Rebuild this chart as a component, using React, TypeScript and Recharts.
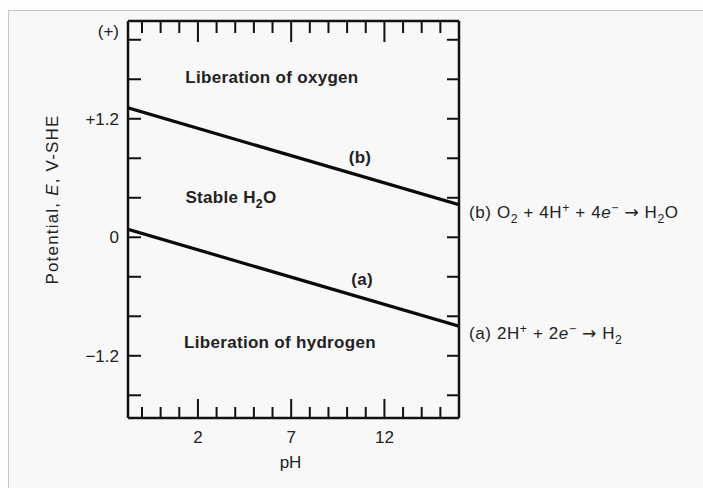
import React from 'react';
import { LineChart, Line, XAxis, YAxis, ReferenceDot } from 'recharts';

// pH range shown on the frame and the two water-stability lines (E in V vs SHE)
const phRange = [-1.75, 16];
const lineA = [0.08, -0.9];
const lineB = [1.31, 0.33];

const xTicks = [-1, 0, 1, 2, 3, 4, 5, 6, 7, 8, 9, 10, 11, 12, 13, 14, 15];
const xMajor = [2, 7, 12];
const yTicks = [-1.6, -1.2, -0.8, -0.4, 0, 0.4, 0.8, 1.2, 1.6, 2.0];
const yBottom = -1.83;
const yTop = 2.19;
const yTickLabels: Record<string, string> = { '1.2': '+1.2', '0': '0', '-1.2': '−1.2' };

type Part = { t: string; s?: 'sub' | 'sup' | 'it' | 'arrow' };

const eqB: Part[] = [
  { t: '(b) O' }, { t: '2', s: 'sub' }, { t: ' + 4H' }, { t: '+', s: 'sup' },
  { t: ' + 4' }, { t: 'e', s: 'it' }, { t: '−', s: 'sup' }, { t: ' ' }, { t: '→', s: 'arrow' }, { t: ' H' },
  { t: '2', s: 'sub' }, { t: 'O' },
];
const eqA: Part[] = [
  { t: '(a) 2H' }, { t: '+', s: 'sup' }, { t: ' + 2' }, { t: 'e', s: 'it' }, { t: '−', s: 'sup' },
  { t: ' ' }, { t: '→', s: 'arrow' }, { t: ' H' }, { t: '2', s: 'sub' },
];

const regions: { id: string; ph: number; e: number; parts: Part[] }[] = [
  { id: 'oxygen', ph: 5.97, e: 1.62, parts: [{ t: 'Liberation of oxygen' }] },
  { id: 'water', ph: 3.77, e: 0.41, parts: [{ t: 'Stable H' }, { t: '2', s: 'sub' }, { t: 'O' }] },
  { id: 'hydrogen', ph: 6.4, e: -1.06, parts: [{ t: 'Liberation of hydrogen' }] },
  { id: 'b', ph: 10.69, e: 0.81, parts: [{ t: '(b)' }] },
  { id: 'a', ph: 10.8, e: -0.42, parts: [{ t: '(a)' }] },
];

const data = phRange.map((ph, i) => ({ ph, a: lineA[i], b: lineB[i] }));

const INK = '#111';
const TEXT = '#222';
const SANS = '"Liberation Sans", Arial, Helvetica, sans-serif';

function rich(parts: Part[], fs: number) {
  let shift = 0;
  return parts.map((p, i) => {
    const target = p.s === 'sub' ? fs * 0.3 : p.s === 'sup' ? -fs * 0.35 : 0;
    const dy = target - shift;
    shift = target;
    const small = p.s === 'sub' || p.s === 'sup';
    return (
      <tspan
        key={i}
        dy={dy}
        fontSize={small ? fs * 0.72 : fs}
        fontStyle={p.s === 'it' ? 'italic' : undefined}
        fontFamily={p.s === 'arrow' ? '"DejaVu Sans", sans-serif' : undefined}
      >
        {p.t}
      </tspan>
    );
  });
}

const BottomTick = (props: any) => {
  const { x, y, payload } = props;
  const major = xMajor.includes(payload.value);
  return (
    <g>
      <line x1={x} x2={x} y1={y} y2={y - (major ? 19 : 11)} stroke={INK} strokeWidth={2} />
      {major && (
        <text x={x} y={y + 25} textAnchor="middle" fontSize={17} fill={TEXT} fontFamily={SANS}>
          {payload.value}
        </text>
      )}
    </g>
  );
};

const TopTick = (props: any) => {
  const { x, y, payload } = props;
  const major = xMajor.includes(payload.value);
  return <line x1={x} x2={x} y1={y} y2={y + (major ? 21 : 12)} stroke={INK} strokeWidth={2} />;
};

const LeftTick = (props: any) => {
  const { x, y, payload } = props;
  const v = payload.value;
  if (v === yTop) {
    return (
      <text x={x - 9} y={y + 16} textAnchor="end" fontSize={17} fill={TEXT} fontFamily={SANS}>
        (+)
      </text>
    );
  }
  const label = yTickLabels[String(v)];
  return (
    <g>
      <line x1={x} x2={x + 13} y1={y} y2={y} stroke={INK} strokeWidth={2} />
      {label && (
        <text x={x - 9} y={y} dy="0.35em" textAnchor="end" fontSize={17} fill={TEXT} fontFamily={SANS}>
          {label}
        </text>
      )}
    </g>
  );
};

const RightTick = (props: any) => {
  const { x, y } = props;
  return <line x1={x} x2={x - 12} y1={y} y2={y} stroke={INK} strokeWidth={2} />;
};

const YTitle = (props: any) => {
  const vb = props.viewBox;
  const cx = vb.x + 52;
  const cy = vb.y + vb.height / 2 - 20;
  return (
    <text
      x={cx}
      y={cy}
      transform={`rotate(-90 ${cx} ${cy})`}
      textAnchor="middle"
      dominantBaseline="central"
      fontSize={17}
      letterSpacing={1.2}
      fill={TEXT}
      fontFamily={SANS}
    >
      Potential, <tspan fontStyle="italic">E</tspan>, V-SHE
    </text>
  );
};

const XTitle = (props: any) => {
  const vb = props.viewBox;
  return (
    <text x={vb.x + vb.width / 2 - 3} y={vb.y + 50} textAnchor="middle" fontSize={17} fill={TEXT} fontFamily={SANS}>
      pH
    </text>
  );
};

const endLabel = (parts: Part[]) => (props: any) => {
  const { x, y, index } = props;
  if (index !== data.length - 1) return <g />;
  return (
    <text x={x + 10} y={y + 13} fontSize={17} letterSpacing={0.6} fill={TEXT} fontFamily={SANS} style={{ whiteSpace: 'pre' }}>
      {rich(parts, 17)}
    </text>
  );
};

const regionLabel = (parts: Part[]) => (props: any) => {
  const vb = props.viewBox;
  const cx = vb.x + vb.width / 2;
  const cy = vb.y + vb.height / 2;
  return (
    <text
      x={cx}
      y={cy + 6}
      textAnchor="middle"
      fontSize={17}
      fontWeight="bold"
      letterSpacing={0.3}
      fill={TEXT}
      fontFamily={SANS}
      style={{ whiteSpace: 'pre' }}
    >
      {rich(parts, 17)}
    </text>
  );
};

export default function App() {
  return (
    <div style={{ position: 'absolute', left: 0, top: 0, width: 703, height: 488, background: '#fdfdfd' }}>
      <div
        style={{
          position: 'absolute',
          left: 8,
          top: 10,
          right: 0,
          bottom: 0,
          background: '#f8f8f8',
          borderTop: '1.5px solid #c6c6c6',
          borderLeft: '1.5px solid #c6c6c6',
        }}
      />
      <div style={{ position: 'absolute', left: 0, top: 0 }}>
        <LineChart width={703} height={488} data={data} margin={{ top: 20, right: 243, bottom: 0, left: 0 }}>
          <XAxis
            dataKey="ph"
            type="number"
            domain={phRange}
            ticks={xTicks}
            interval={0}
            tickSize={0}
            tickMargin={0}
            tick={<BottomTick />}
            height={70}
            allowDataOverflow
            axisLine={{ stroke: INK, strokeWidth: 2.5 }}
            label={<XTitle />}
          />
          <XAxis
            xAxisId="top"
            dataKey="ph"
            orientation="top"
            type="number"
            domain={phRange}
            ticks={xTicks}
            interval={0}
            tickSize={0}
            tickMargin={0}
            tick={<TopTick />}
            height={1}
            allowDataOverflow
            axisLine={{ stroke: INK, strokeWidth: 2.5 }}
          />
          <YAxis
            type="number"
            domain={[yBottom, yTop]}
            ticks={[...yTicks, yTop]}
            interval={0}
            tickSize={0}
            tickMargin={0}
            tick={<LeftTick />}
            width={128}
            allowDataOverflow
            axisLine={{ stroke: INK, strokeWidth: 2.5 }}
            label={<YTitle />}
          />
          <YAxis
            yAxisId="right"
            orientation="right"
            type="number"
            domain={[yBottom, yTop]}
            ticks={yTicks}
            interval={0}
            tickSize={0}
            tickMargin={0}
            tick={<RightTick />}
            width={1}
            allowDataOverflow
            axisLine={{ stroke: INK, strokeWidth: 2.5 }}
          />
          {/* invisible copy so the top and right frame axes have a series */}
          <Line
            xAxisId="top"
            yAxisId="right"
            dataKey="b"
            stroke="none"
            dot={false}
            legendType="none"
            isAnimationActive={false}
          />
          <Line
            dataKey="b"
            stroke="#0a0a0a"
            strokeWidth={3.2}
            dot={false}
            isAnimationActive={false}
            label={endLabel(eqB)}
          />
          <Line
            dataKey="a"
            stroke="#0a0a0a"
            strokeWidth={3.2}
            dot={false}
            isAnimationActive={false}
            label={endLabel(eqA)}
          />
          {regions.map((r) => (
            <ReferenceDot
              key={r.id}
              x={r.ph}
              y={r.e}
              r={0}
              fill="none"
              stroke="none"
              label={regionLabel(r.parts)}
            />
          ))}
        </LineChart>
      </div>
    </div>
  );
}
